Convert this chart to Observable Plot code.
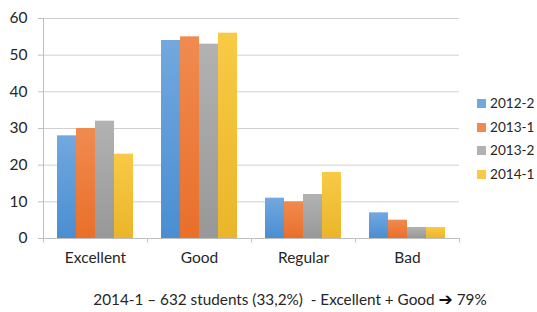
<!DOCTYPE html>
<html><head><meta charset="utf-8">
<script src="https://cdn.jsdelivr.net/npm/d3@7"></script>
<script src="https://cdn.jsdelivr.net/npm/@observablehq/plot@0.6"></script>
<style>
body{margin:0;background:#fff;font-family:Lato,"Open Sans",sans-serif;}
#wrap{position:relative;width:537px;height:312px;overflow:hidden;}
#wrap svg{position:absolute;left:0;top:0;}
.leg{position:absolute;left:477px;font-size:13.6px;color:#262626;line-height:16px;white-space:nowrap;}
.leg span{display:inline-block;width:9px;height:9px;margin-right:4px;vertical-align:0px;}
#cap{position:absolute;left:0;width:580px;top:290px;text-align:center;font-size:15.3px;color:#262626;white-space:nowrap;}
#cap b{font-family:"DejaVu Sans",sans-serif;font-weight:bold;color:#111;font-size:17px;line-height:15px;}
</style>
</head><body>
<div id="wrap"></div>
<script>
const categories = ["Excellent", "Good", "Regular", "Bad"];
const seriesNames = ["2012-2", "2013-1", "2013-2", "2014-1"];
const s2012_2 = [28, 54, 11, 7];
const s2013_1 = [30, 55, 10, 5];
const s2013_2 = [32, 53, 12, 3];
const s2014_1 = [23, 56, 18, 3];
const yTicks = [0, 10, 20, 30, 40, 50, 60];
const colorsTop = ["#72a8de", "#f08b50", "#b2b2b2", "#f9ca45"];
const colorsBottom = ["#4a8ed2", "#e96f2a", "#989898", "#eab52a"];
const captionText = "2014-1 \u2013 632 students (33,2%)\u00a0 - Excellent + Good ";
const captionArrow = "\u2794";
const captionEnd = " 79%";

const allSeries = [s2012_2, s2013_1, s2013_2, s2014_1];
const W = 537, H = 275, ML = 43, MR = 78, MT = 18, MB = 37;
const bw = (W - ML - MR) / categories.length;
const groupPad = 14, barW = (bw - 2 * groupPad) / seriesNames.length;
const axisColor = "#bfbfbf", gridColor = "#d0d0d0", textColor = "#262626";

const barMarks = allSeries.map((arr, i) =>
  Plot.barY(categories.map((c, j) => ({c, v: arr[j]})), {
    x: "c", y: "v", fill: `url(#grad${i})`,
    insetLeft: groupPad + barW * i,
    insetRight: bw - groupPad - barW * (i + 1)
  })
);

const chart = Plot.plot({
  width: W, height: H,
  marginLeft: ML, marginRight: MR, marginTop: MT, marginBottom: MB,
  style: {fontFamily: "Lato, 'Open Sans', sans-serif", fontSize: "15.5px", color: textColor, background: "#fff"},
  x: {domain: categories, padding: 0, axis: null},
  y: {domain: [0, 60], axis: null},
  marks: [
    Plot.gridY(yTicks, {stroke: gridColor, strokeOpacity: 1}),
    ...barMarks,
    Plot.ruleY([0], {stroke: axisColor}),
    Plot.ruleX([categories[0]], {x: d => d, dx: -bw / 2, y1: -1.1, y2: 60, stroke: axisColor}),
    Plot.ruleX(categories, {x: d => d, dx: -bw / 2, y1: 0, y2: -1.2, stroke: axisColor}),
    Plot.ruleX([categories[categories.length - 1]], {x: d => d, dx: bw / 2, y1: 0, y2: -1.2, stroke: axisColor}),
    Plot.axisY(yTicks, {anchor: "left", label: null, tickSize: 5, tickPadding: 11, stroke: axisColor, fill: textColor, fontSize: 15.5}),
    Plot.axisX(categories, {anchor: "bottom", label: null, tickSize: 0, tickPadding: 13, fill: textColor, fontSize: 15.5})
  ]
});

const defs = document.createElementNS("http://www.w3.org/2000/svg", "defs");
defs.innerHTML = colorsTop.map((c, i) =>
  `<linearGradient id="grad${i}" x1="0" y1="0" x2="0" y2="1"><stop offset="0" stop-color="${c}"/><stop offset="1" stop-color="${colorsBottom[i]}"/></linearGradient>`
).join("");
chart.insertBefore(defs, chart.firstChild);

const wrap = document.getElementById("wrap");
wrap.appendChild(chart);

const legendY = [103, 127, 150, 174];
seriesNames.forEach((name, i) => {
  const d = document.createElement("div");
  d.className = "leg";
  d.style.top = (legendY[i] - 8) + "px";
  d.innerHTML = `<span style="background:${colorsTop[i]}"></span>${name}`;
  wrap.appendChild(d);
});
const cap = document.createElement("div");
cap.id = "cap";
cap.append(captionText);
const b = document.createElement("b");
b.textContent = captionArrow;
cap.append(b, captionEnd);
wrap.appendChild(cap);
</script>
</body></html>
